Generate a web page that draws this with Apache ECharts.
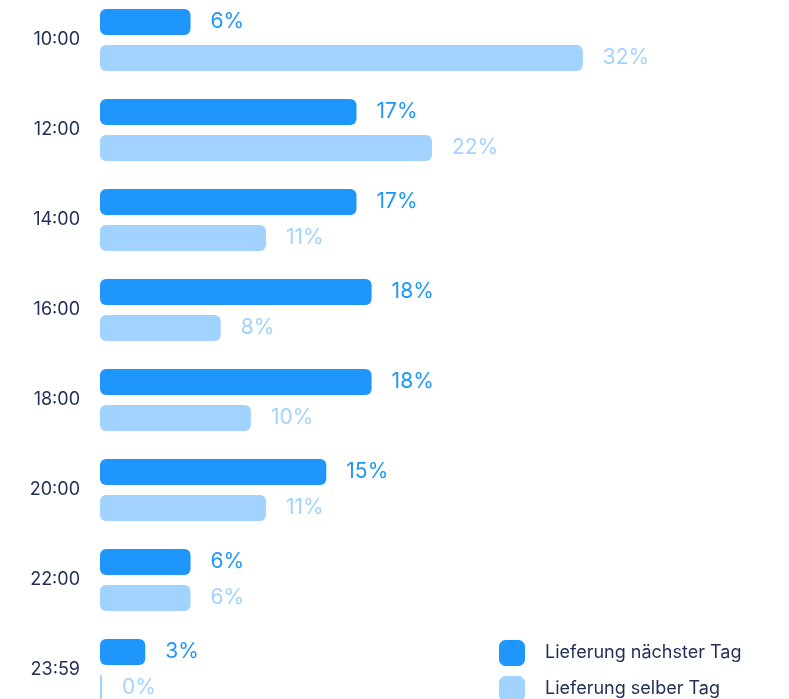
<!DOCTYPE html>
<html><head><meta charset="utf-8">
<script src="https://cdn.jsdelivr.net/npm/echarts@6/dist/echarts.min.js"></script>
<style>html,body{margin:0;padding:0;background:#fff}#c{width:789px;height:699px}</style>
</head><body><div id="c"></div>
<script>
const categories = ['10:00','12:00','14:00','16:00','18:00','20:00','22:00','23:59'];
const nextDay = [6,17,17,18,18,15,6,3];
const sameDay = [32,22,11,8,10,11,6,0];
const seriesNames = ['Lieferung nächster Tag','Lieferung selber Tag'];
const colors = ['#1e96fc','#a2d2ff'];
const font = 'Inter';
const chart = echarts.init(document.getElementById('c'), null, {renderer:'canvas'});
function mk(name, data, color, extra){
  return Object.assign({
    name, type:'bar', data, barWidth:26, barGap:'38.5%',
    itemStyle:{color, borderRadius:6},
    label:{show:true, position:'right', distance:20, color, fontFamily:font, fontSize:21, formatter:'{c}%'}
  }, extra||{});
}
function lg(name, top){
  return {orient:'vertical', left:499, top, itemWidth:26, itemHeight:26, itemGap:10,
    icon:'roundRect', data:[name], padding:0,
    textStyle:{color:'#1f2d55', fontFamily:font, fontSize:18, padding:[0,0,0,15]}};
}
chart.setOption({
  animation:false,
  textStyle:{fontFamily:font},
  grid:{left:100, width:679, top:-5, height:720, containLabel:false, outerBoundsMode:'none'},
  xAxis:{type:'value', min:0, max:45, show:false},
  yAxis:{type:'category', data:categories, inverse:true,
    axisLine:{show:false}, axisTick:{show:false}, splitLine:{show:false},
    axisLabel:{color:'#1f2d55', fontFamily:font, fontSize:18, margin:20}},
  legend:[lg(seriesNames[0], 640), lg(seriesNames[1], 676)],
  series:[
    mk(seriesNames[0], nextDay, colors[0]),
    mk(seriesNames[1], sameDay, colors[1], {barMinHeight:2})
  ]
});
</script></body></html>
